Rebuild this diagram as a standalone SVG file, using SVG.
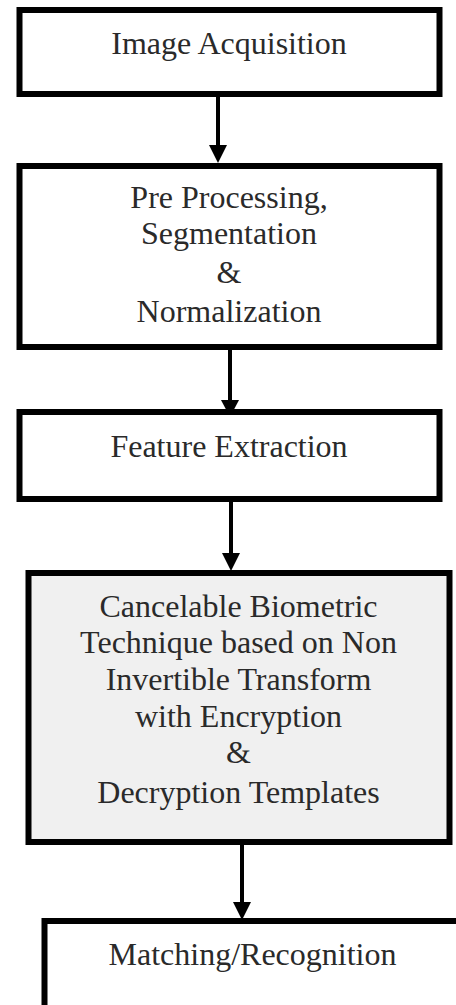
<svg xmlns="http://www.w3.org/2000/svg" width="456" height="1005" viewBox="0 0 456 1005">
  <style>
    .box { fill: #ffffff; stroke: #000000; stroke-width: 6; }
    .box.shade { fill: #f0f0f0; }
    .label { font-family: "Liberation Serif", "Times New Roman", serif; font-size: 32px; fill: #2a2a2a; text-anchor: middle; }
    .link { stroke: #000000; stroke-width: 4; fill: none; }
    .head { fill: #000000; }
  </style>

  <rect width="456" height="1005" fill="#ffffff"/>

  <!-- connectors -->
  <g id="connectors">
    <path class="link" d="M218,97 V145"/>
    <path class="head" d="M209,145 L227,145 L218,163 Z"/>
    <path class="link" d="M230,350 V400"/>
    <path class="head" d="M221,400 L239,400 L230,417 Z"/>
    <path class="link" d="M231,502 V553"/>
    <path class="head" d="M222,553 L240,553 L231,571 Z"/>
    <path class="link" d="M242,845 V902"/>
    <path class="head" d="M233,902 L251,902 L242,920 Z"/>
  </g>

  <!-- step 1 -->
  <g id="image-acquisition">
    <rect class="box" x="19.5" y="10" width="420" height="84"/>
    <text class="label" x="229" y="54">Image Acquisition</text>
  </g>

  <!-- step 2 -->
  <g id="preprocessing">
    <rect class="box" x="19.5" y="166" width="420" height="181"/>
    <text class="label" x="229" y="208">Pre Processing,</text>
    <text class="label" x="229" y="244">Segmentation</text>
    <text class="label" x="229" y="283">&amp;</text>
    <text class="label" x="229" y="322">Normalization</text>
  </g>

  <!-- step 3 -->
  <g id="feature-extraction">
    <rect class="box" x="19.5" y="412" width="420" height="87"/>
    <text class="label" x="229" y="457">Feature Extraction</text>
  </g>

  <!-- step 4 -->
  <g id="cancelable-biometric">
    <rect class="box shade" x="28.5" y="573" width="421" height="269"/>
    <text class="label" x="238.5" y="617">Cancelable Biometric</text>
    <text class="label" x="238.5" y="653">Technique based on Non</text>
    <text class="label" x="238.5" y="690">Invertible Transform</text>
    <text class="label" x="238.5" y="727">with Encryption</text>
    <text class="label" x="238.5" y="763">&amp;</text>
    <text class="label" x="238.5" y="803">Decryption Templates</text>
  </g>

  <!-- step 5 -->
  <g id="matching">
    <rect class="box" x="44.5" y="921" width="440" height="100"/>
    <text class="label" x="252.5" y="965">Matching/Recognition</text>
  </g>
</svg>
